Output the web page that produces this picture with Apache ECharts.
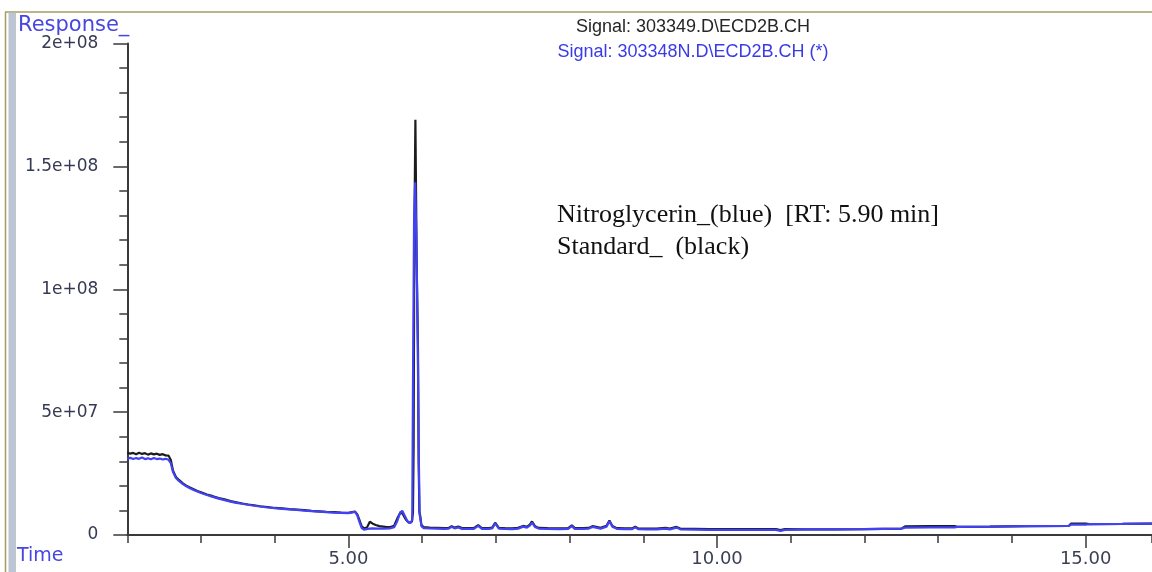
<!DOCTYPE html>
<html>
<head>
<meta charset="utf-8">
<title>ECD2B chromatogram overlay</title>
<script src="https://cdn.jsdelivr.net/npm/echarts@6/dist/echarts.min.js"></script>
<style>
  html, body { margin: 0; padding: 0; background: #ffffff; }
  #chart { width: 1152px; height: 572px; }
</style>
</head>
<body>
<div id="chart"></div>
<script>
// Retention time axis (min) and response axis
const timeMin = 2.0;
const timeMax = 15.9;
const timeMajorTicks = [5, 10, 15];
const timeTickLabels = ['5.00', '10.00', '15.00'];
const responseTickLabels = ['0', '5e+07', '1e+08', '1.5e+08', '2e+08'];

const signalStandard = 'Signal: 303349.D\\ECD2B.CH';
const signalSample = 'Signal: 303348N.D\\ECD2B.CH (*)';

// Standard trace (black): [time min, response x 10^6]
const standardTrace = [
  [2.00,33.6],[2.04,33.1],[2.08,33.4],[2.12,32.9],[2.16,33.5],[2.20,33.0],[2.24,33.3],[2.28,32.7],
  [2.32,33.2],[2.36,32.8],[2.40,33.1],[2.44,32.6],[2.48,32.9],[2.52,32.4],[2.56,32.3],[2.59,30.5],
  [2.62,26.2],[2.66,23.6],[2.70,22.4],[2.75,21.1],[2.80,20.1],[2.85,19.3],[2.90,18.6],[2.95,17.9],
  [3.00,17.4],[3.08,16.5],[3.16,15.8],[3.24,15.0],[3.32,14.5],[3.40,13.8],[3.48,13.3],[3.56,12.8],
  [3.64,12.4],[3.72,12.1],[3.80,11.7],[3.90,11.4],[4.00,11.0],[4.10,10.8],[4.20,10.5],[4.30,10.3],
  [4.40,10.1],[4.50,9.8],[4.60,9.6],[4.70,9.4],[4.80,9.3],[4.90,9.1],[5.00,9.0],[5.05,9.3],
  [5.09,9.5],[5.12,8.4],[5.15,6.0],[5.18,3.5],[5.21,2.7],[5.25,3.0],[5.29,5.4],[5.33,4.6],
  [5.37,4.1],[5.42,3.6],[5.47,3.4],[5.52,3.2],[5.57,3.2],[5.62,3.8],[5.67,7.2],[5.71,9.4],
  [5.74,8.4],[5.78,6.2],[5.82,5.0],[5.86,5.4],[5.875,9.0],[5.884,36],[5.893,120],[5.908,169],
  [5.925,112],[5.943,76],[5.952,30],[5.962,9.5],[5.975,7.5],[5.99,4.0],[6.02,3.2],[6.10,3.0],
  [6.20,2.9],[6.30,2.8],[6.36,2.9],[6.40,3.6],[6.44,3.0],[6.49,3.4],[6.54,2.8],[6.62,2.8],
  [6.70,2.8],[6.76,4.0],[6.81,2.8],[6.90,2.8],[6.95,3.0],[6.99,5.0],[7.04,2.9],[7.12,2.8],
  [7.22,2.7],[7.30,2.9],[7.37,3.7],[7.42,3.3],[7.46,4.2],[7.49,5.5],[7.53,3.6],[7.58,2.9],
  [7.70,2.8],[7.85,2.7],[7.98,2.8],[8.03,3.9],[8.07,2.8],[8.18,2.8],[8.26,2.9],[8.31,3.6],
  [8.36,3.3],[8.42,2.9],[8.50,3.7],[8.54,5.9],[8.58,3.7],[8.64,2.8],[8.75,2.7],[8.85,2.7],
  [8.89,3.4],[8.93,2.7],[9.05,2.6],[9.18,2.6],[9.30,2.9],[9.36,2.6],[9.45,3.3],[9.50,2.6],
  [9.70,2.5],[9.90,2.4],[10.20,2.4],[10.50,2.4],[10.80,2.4],[10.86,2.0],[10.92,2.4],[11.20,2.3],
  [11.60,2.3],[12.00,2.4],[12.50,2.6],[12.55,3.5],[12.90,3.6],[13.22,3.6],[13.26,3.3],[13.70,3.4],
  [14.20,3.6],[14.77,3.7],[14.80,4.6],[15.00,4.6],[15.05,4.4],[15.50,4.5],[15.90,4.6]
];

// Nitroglycerin sample trace (blue): [time min, response x 10^6]
const nitroglycerinTrace = [
  [2.00,31.0],[2.04,31.4],[2.08,30.9],[2.12,31.3],[2.16,31.0],[2.20,31.5],[2.24,30.9],[2.28,31.2],
  [2.32,30.8],[2.36,31.3],[2.40,30.9],[2.44,31.1],[2.48,30.7],[2.52,31.0],[2.56,30.6],[2.59,29.2],
  [2.62,25.6],[2.66,23.2],[2.70,22.0],[2.75,20.8],[2.80,19.8],[2.85,19.0],[2.90,18.3],[2.95,17.7],
  [3.00,17.1],[3.08,16.3],[3.16,15.5],[3.24,14.8],[3.32,14.2],[3.40,13.6],[3.48,13.1],[3.56,12.7],
  [3.64,12.3],[3.72,11.9],[3.80,11.6],[3.90,11.2],[4.00,10.9],[4.10,10.6],[4.20,10.4],[4.30,10.2],
  [4.40,9.9],[4.50,9.7],[4.60,9.5],[4.70,9.3],[4.80,9.1],[4.90,9.0],[5.00,8.9],[5.05,9.2],
  [5.09,9.4],[5.12,8.0],[5.15,5.2],[5.18,2.8],[5.21,2.2],[5.26,2.5],[5.32,2.7],[5.40,2.6],
  [5.48,2.6],[5.56,2.7],[5.62,3.2],[5.66,5.5],[5.70,9.0],[5.73,9.9],[5.76,8.0],[5.80,5.6],
  [5.84,4.8],[5.865,6.0],[5.875,60],[5.89,128],[5.905,143.5],[5.92,122],[5.94,78],[5.955,30],
  [5.965,8.5],[5.975,8.0],[5.99,3.6],[6.02,2.8],[6.10,2.7],[6.20,2.6],[6.30,2.5],[6.36,2.6],
  [6.40,3.3],[6.44,2.7],[6.49,3.1],[6.54,2.5],[6.62,2.5],[6.70,2.5],[6.76,3.7],[6.81,2.5],
  [6.90,2.5],[6.95,2.7],[6.99,4.7],[7.04,2.6],[7.12,2.5],[7.22,2.4],[7.30,2.6],[7.37,3.4],
  [7.42,3.0],[7.46,3.8],[7.49,5.0],[7.53,3.3],[7.58,2.6],[7.70,2.5],[7.85,2.4],[7.98,2.5],
  [8.03,3.6],[8.07,2.5],[8.18,2.5],[8.26,2.6],[8.31,3.3],[8.36,3.0],[8.42,2.6],[8.50,3.4],
  [8.54,5.6],[8.58,3.4],[8.64,2.5],[8.75,2.4],[8.85,2.4],[8.89,3.1],[8.93,2.4],[9.05,2.3],
  [9.18,2.3],[9.30,2.6],[9.36,2.3],[9.45,3.0],[9.50,2.3],[9.70,2.2],[9.90,2.1],[10.20,2.1],
  [10.50,2.1],[10.80,2.1],[10.86,1.7],[10.92,2.1],[11.20,2.3],[11.60,2.3],[12.00,2.4],[12.50,2.6],
  [12.55,3.0],[12.90,3.1],[13.22,3.1],[13.26,3.3],[13.70,3.4],[14.20,3.6],[14.77,3.7],[14.80,4.2],
  [15.00,4.2],[15.05,4.4],[15.50,4.5],[15.90,4.6]
];

const toResponse = trace => trace.map(p => [p[0], p[1] * 1e6]);

const axisColor = '#3a3a3a';
const labelFont = 'DejaVu Sans';

const chart = echarts.init(document.getElementById('chart'), null, { renderer: 'canvas' });

chart.setOption({
  animation: false,
  backgroundColor: '#ffffff',
  grid: { left: 127.3, right: 0, top: 43.5, bottom: 37, containLabel: false },
  xAxis: [
    {
      // one-minute ticks and the axis line
      type: 'value',
      min: timeMin,
      max: timeMax,
      interval: 1,
      axisLine: { show: true, onZero: false, lineStyle: { color: axisColor, width: 2 } },
      axisTick: { show: true, length: 8, lineStyle: { color: axisColor, width: 1.5 } },
      axisLabel: { show: false },
      splitLine: { show: false }
    },
    {
      // labelled five-minute ticks
      type: 'value',
      min: timeMin,
      max: timeMax,
      position: 'bottom',
      axisLine: { show: false },
      axisTick: { show: true, length: 13, customValues: timeMajorTicks, lineStyle: { color: axisColor, width: 1.5 } },
      axisLabel: {
        show: true,
        customValues: timeMajorTicks,
        margin: 15,
        color: '#3a3f52',
        fontFamily: labelFont,
        fontSize: 18,
        formatter: v => timeTickLabels[timeMajorTicks.indexOf(Math.round(v))] || ''
      },
      splitLine: { show: false }
    }
  ],
  yAxis: {
    type: 'value',
    min: 0,
    max: 2e8,
    interval: 5e7,
    axisLine: { show: true, lineStyle: { color: axisColor, width: 2 } },
    axisTick: { show: true, length: 14, lineStyle: { color: axisColor, width: 1.5 } },
    minorTick: { show: true, splitNumber: 5, length: 8, lineStyle: { color: axisColor, width: 1.5 } },
    axisLabel: {
      margin: 29,
      color: '#363a52',
      fontFamily: labelFont,
      fontSize: 17,
      formatter: v => responseTickLabels[Math.round(v / 5e7)]
    },
    splitLine: { show: false }
  },
  series: [
    {
      name: 'Standard_',
      type: 'line',
      xAxisIndex: 0,
      data: toResponse(standardTrace),
      showSymbol: false,
      smooth: false,
      lineStyle: { color: '#1c1c1c', width: 2.2 },
      z: 2
    },
    {
      name: 'Nitroglycerin_',
      type: 'line',
      xAxisIndex: 0,
      data: toResponse(nitroglycerinTrace),
      showSymbol: false,
      smooth: false,
      lineStyle: { color: '#4141f5', width: 2.2 },
      z: 3
    }
  ],
  graphic: [
    // window frame
    { type: 'line', shape: { x1: 5, y1: 12, x2: 1152, y2: 12 }, style: { stroke: '#a59d62', lineWidth: 1.5 }, silent: true },
    { type: 'line', shape: { x1: 5.5, y1: 12, x2: 5.5, y2: 572 }, style: { stroke: '#a59d62', lineWidth: 1.5 }, silent: true },
    { type: 'rect', shape: { x: 8.5, y: 12.8, width: 7.5, height: 560 }, style: { fill: '#bcc5d2' }, silent: true },
    // axis captions
    { type: 'text', left: 18, top: 15, style: { text: 'Response_', fill: '#4646e0', font: '21px "DejaVu Sans"' }, silent: true },
    { type: 'text', left: 17, top: 547, style: { text: 'Time', fill: '#4646e0', font: '19px "DejaVu Sans"' }, silent: true },
    // signal headers
    { type: 'text', x: 693, y: 27, style: { text: signalStandard, fill: '#262626', font: '18px "Liberation Sans"', align: 'center', verticalAlign: 'middle' }, silent: true },
    { type: 'text', x: 693, y: 52, style: { text: signalSample, fill: '#3b3be6', font: '18px "Liberation Sans"', align: 'center', verticalAlign: 'middle' }, silent: true },
    // peak annotation
    { type: 'text', x: 557, y: 215, style: { text: 'Nitroglycerin_(blue)  [RT: 5.90 min]', fill: '#111111', font: '26px "Liberation Serif"', align: 'left', verticalAlign: 'middle' }, silent: true },
    { type: 'text', x: 557, y: 247, style: { text: 'Standard_  (black)', fill: '#111111', font: '26px "Liberation Serif"', align: 'left', verticalAlign: 'middle' }, silent: true }
  ]
});
</script>
</body>
</html>
